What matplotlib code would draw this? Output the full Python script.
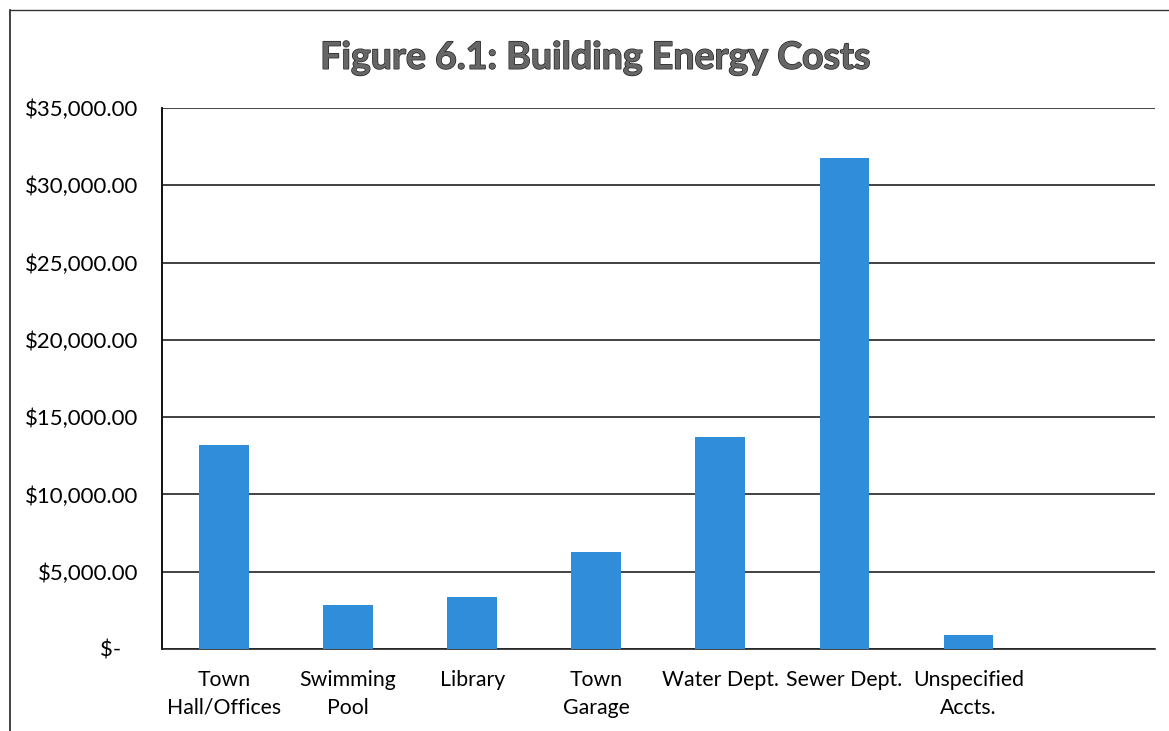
import matplotlib.pyplot as plt
from matplotlib.lines import Line2D
from matplotlib.ticker import FuncFormatter
import matplotlib.patheffects as pe

# Data
categories = ['Town\nHall/Offices', 'Swimming\nPool', 'Library', 'Town\nGarage',
              'Water Dept.', 'Sewer Dept.', 'Unspecified\nAccts.', '']
costs = [13200, 2850, 3350, 6300, 13700, 31750, 900, 0]
y_ticks = [0, 5000, 10000, 15000, 20000, 25000, 30000, 35000]

plt.rcParams['font.family'] = ['Lato', 'DejaVu Sans']

fig = plt.figure(figsize=(11.69, 7.31), dpi=100)
ax = fig.add_axes([0.1386, 0.1122, 0.849, 0.7401])

x = range(len(categories))
ax.bar(x, costs, width=0.4, color='#2F8DDA', zorder=3)

ax.set_xlim(-0.5, len(categories) - 0.5)
ax.set_ylim(0, 35000)
ax.set_yticks(y_ticks)


def money(v, pos):
    if v == 0:
        return '$-   '
    return '${:,.2f}'.format(v)


ax.yaxis.set_major_formatter(FuncFormatter(money))
ax.set_xticks(list(x))
ax.set_xticklabels(categories, fontsize=15.3, linespacing=1.5, va='top')
ax.tick_params(axis='y', labelsize=16, length=0, pad=17)
ax.tick_params(axis='x', length=0, pad=15)

ax.grid(axis='y', color='#222222', lw=1.2, zorder=1)
for s in ['top', 'right']:
    ax.spines[s].set_visible(False)
ax.spines['left'].set_color('#111111')
ax.spines['left'].set_linewidth(1.4)
ax.spines['bottom'].set_color('#222222')
ax.spines['bottom'].set_linewidth(1.2)

fig.text(0.509, 0.921, 'Figure 6.1: Building Energy Costs', ha='center', va='center',
         fontsize=27, fontweight='bold', color='#666666',
         path_effects=[pe.withStroke(linewidth=1.0, foreground='#222222')])

# outer frame of the chart area
fig.add_artist(Line2D([0.0086, 0.0086], [0.0, 0.986], color='#222222', lw=1.2))
fig.add_artist(Line2D([0.0086, 1.0], [0.986, 0.986], color='#333333', lw=1.0))

plt.savefig('out.png', dpi=100)
